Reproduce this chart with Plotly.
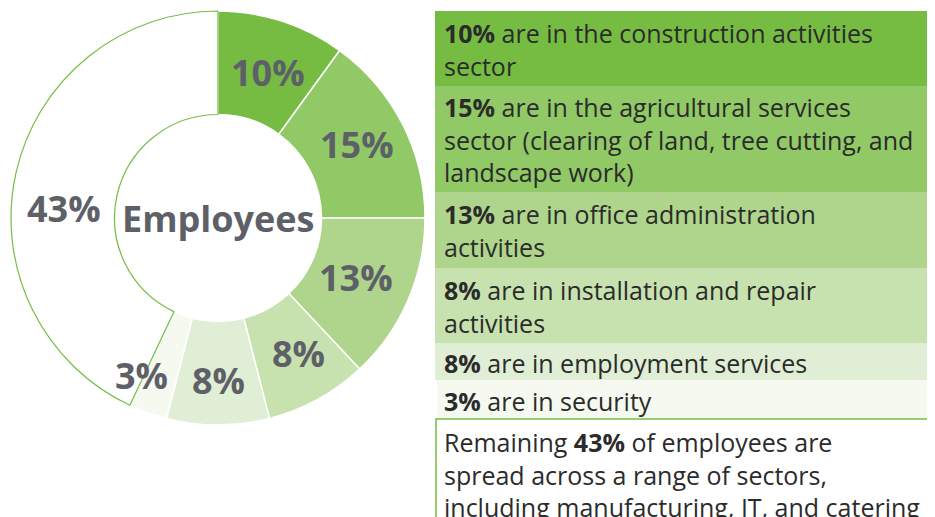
import math
import plotly.graph_objects as go

# ---- data ----
categories = ["Construction activities", "Agricultural services", "Office administration",
              "Installation and repair", "Employment services", "Security", "Other sectors"]
shares = [10, 15, 13, 8, 8, 3, 43]
slice_labels = ["10%", "15%", "13%", "8%", "8%", "3%", "43%"]
descriptions = [
    "<b>10%</b> are in the construction activities<br>sector",
    "<b>15%</b> are in the agricultural services<br>sector (clearing of land, tree cutting, and<br>landscape work)",
    "<b>13%</b> are in office administration<br>activities",
    "<b>8%</b> are in installation and repair<br>activities",
    "<b>8%</b> are in employment services",
    "<b>3%</b> are in security",
    "Remaining <b>43%</b> of employees are<br>spread across a range of sectors,<br>including manufacturing, IT, and catering",
]
center_label = "Employees"

# ---- style ----
OFF = 8                      # page body margin
W, H = 935 - OFF, 517 - OFF
colors = ["#76bc43", "#90c966", "#aed58b", "#c7e1af", "#dfeed4", "#f5f9f0", "#ffffff"]
line_colors = ["#ffffff"] * 6 + ["#76bc43"]
line_widths = [1.5] * 6 + [1.2]
label_color = "#5e6068"
text_color = "#2b2b2b"
label_font = "Open Sans"
text_font = "Open Sans"

cx, cy, r_out = 218, 218, 207
hole = 0.5

def px(x):
    return (x - OFF) / W

def py(y):
    return 1 - (y - OFF) / H

fig = go.Figure()
fig.add_trace(go.Pie(
    labels=categories, values=shares, sort=False, direction="clockwise", rotation=0,
    hole=hole, textinfo="none", hoverinfo="label+percent",
    marker=dict(colors=colors, line=dict(color=line_colors, width=line_widths)),
    domain=dict(x=[px(cx - r_out), px(cx + r_out)], y=[py(cy + r_out), py(cy - r_out)]),
    showlegend=False,
))

annotations = []
# slice labels placed at angles derived from the data
angle_shift = [1, -1, 0, -2, 0, 6, -9]
label_r = [154, 157, 150, 158, 162, 175, 154]
total = sum(shares)
cum = 0
for i, v in enumerate(shares):
    mid = (cum + v / 2) / total * 360 + angle_shift[i]
    cum += v
    a = math.radians(mid)
    x = cx + label_r[i] * math.sin(a)
    y = cy - label_r[i] * math.cos(a)
    annotations.append(dict(x=px(x), y=py(y), xref="paper", yref="paper", xanchor="center", yanchor="middle",
                            text=f"<b>{slice_labels[i]}</b>", showarrow=False,
                            font=dict(size=36, color=label_color, family=label_font)))

annotations.append(dict(x=px(cx), y=py(cy), xref="paper", yref="paper", xanchor="center", yanchor="middle",
                        text=f"<b>{center_label}</b>", showarrow=False,
                        font=dict(size=36, color=label_color, family=label_font)))

# right-hand description boxes
box_tops = [11, 86, 192, 268, 343, 380, 419]
box_bots = [86, 192, 268, 343, 380, 418, 540]
box_left = [435, 435, 435, 435, 435, 437, 436]
box_right = 928
text_mid = [49.5, 140, 230.5, 306, 363, 401, 474]
shapes = []
for i in range(len(descriptions)):
    shapes.append(dict(type="rect", xref="paper", yref="paper",
                       x0=px(box_left[i]), x1=px(box_right), y0=py(box_bots[i]), y1=py(box_tops[i]),
                       fillcolor=colors[i], line=dict(width=1.5 if i == 6 else 0, color="#76bc43"),
                       layer="below"))
    annotations.append(dict(x=px(442), y=py(text_mid[i]), xref="paper", yref="paper",
                            xanchor="left", yanchor="middle", align="left", text=descriptions[i],
                            showarrow=False, font=dict(size=25, color=text_color, family=text_font)))

fig.update_layout(width=W, height=H, margin=dict(l=0, r=0, t=0, b=0),
                  paper_bgcolor="white", plot_bgcolor="white",
                  shapes=shapes, annotations=annotations)
fig.write_html("out.html")
